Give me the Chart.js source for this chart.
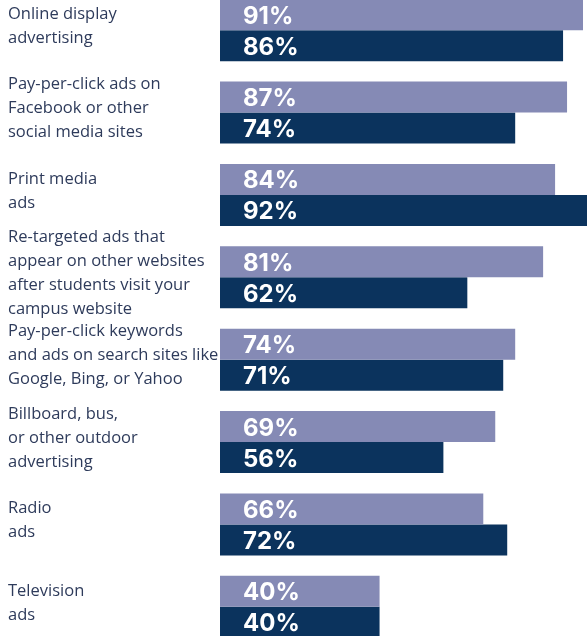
<!DOCTYPE html>
<html>
<head>
<meta charset="utf-8">
<script src="https://cdn.jsdelivr.net/npm/chart.js@4"></script>
<style>
  html, body { margin: 0; padding: 0; background: #fff; overflow: hidden; }
  #wrap { position: relative; width: 587px; height: 659px; margin-top: -11px; }
</style>
</head>
<body>
<div id="wrap"><canvas id="adsChart"></canvas></div>
<script>
// label lines for each ad type
const categories = [
  ['Online display', 'advertising'],
  ['Pay-per-click ads on', 'Facebook or other', 'social media sites'],
  ['Print media', 'ads'],
  ['Re-targeted ads that', 'appear on other websites', 'after students visit your', 'campus website'],
  ['Pay-per-click keywords', 'and ads on search sites like', 'Google, Bing, or Yahoo'],
  ['Billboard, bus,', 'or other outdoor', 'advertising'],
  ['Radio', 'ads'],
  ['Television', 'ads']
]

const firstSeries = [91, 87, 84, 81, 74, 69, 66, 40]
const secondSeries = [86, 74, 92, 62, 71, 56, 72, 40]

const lightColor = '#858ab5'
const darkColor = '#0b335d'
const textColor = '#2e3b5b'

// white percent text inside each bar
const percentLabels = {
  id: 'percentLabels',
  afterDatasetsDraw(chart) {
    const ctx = chart.ctx
    ctx.save()
    ctx.fillStyle = '#ffffff'
    ctx.font = 'bold 24px Inter'
    ctx.textAlign = 'left'
    ctx.textBaseline = 'alphabetic'
    chart.data.datasets.forEach((ds, i) => {
      const meta = chart.getDatasetMeta(i)
      meta.data.forEach((bar, j) => {
        ctx.fillText(ds.data[j] + '%', chart.chartArea.left + 23, bar.y + 9)
      })
    })
    ctx.restore()
  }
}

new Chart(document.getElementById('adsChart'), {
  type: 'bar',
  data: {
    labels: categories,
    datasets: [
      { data: firstSeries, backgroundColor: lightColor },
      { data: secondSeries, backgroundColor: darkColor }
    ]
  },
  options: {
    indexAxis: 'y',
    responsive: true,
    maintainAspectRatio: false,
    animation: false,
    layout: { padding: { left: 8, right: 0, top: 0, bottom: 0 } },
    datasets: {
      bar: { categoryPercentage: 0.753, barPercentage: 1 }
    },
    plugins: {
      legend: { display: false },
      tooltip: { enabled: false }
    },
    scales: {
      x: { display: false, min: 0, max: 92 },
      y: {
        grid: { display: false },
        border: { display: false },
        afterFit(scale) {
          scale.width = 212
          // the long labels shouldn't push the bars inward
          scale.paddingTop = 0
          scale.paddingBottom = 0
        },
        ticks: {
          autoSkip: false,
          crossAlign: 'far',
          labelOffset: -4,
          color: textColor,
          padding: 0,
          font: { family: 'Open Sans', size: 16.5, lineHeight: '24px' }
        }
      }
    }
  },
  plugins: [percentLabels]
})
</script>
</body>
</html>
